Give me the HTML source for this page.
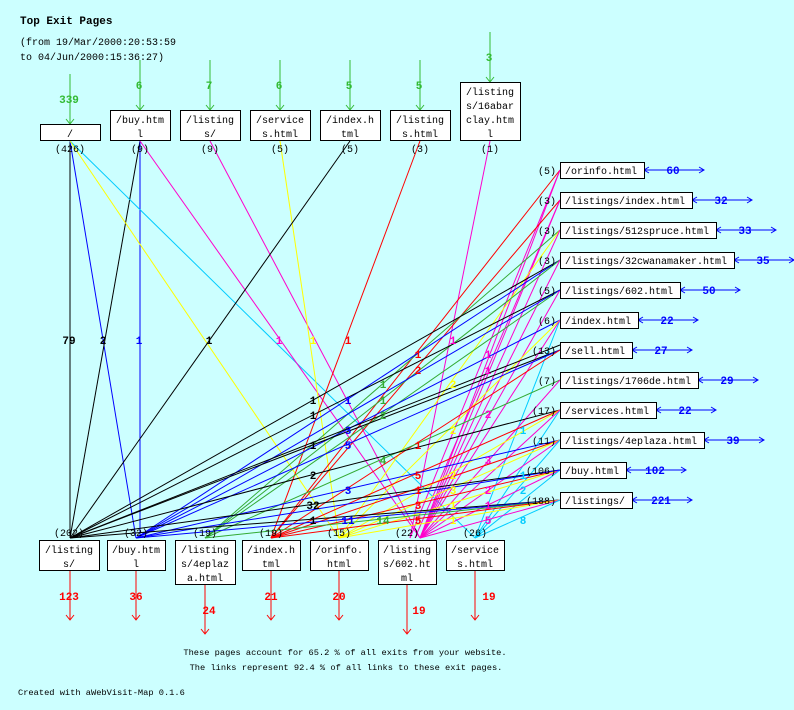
<!DOCTYPE html>
<html><head><meta charset="utf-8"><style>
html,body{margin:0;padding:0;background:#ccffff;}
svg{display:block;font-family:"Liberation Mono","DejaVu Sans Mono",monospace;}
.t{font-size:10px;fill:#000}
.b{font-size:11px;font-weight:bold}
</style></head><body>
<svg width="794" height="710" viewBox="0 0 794 710" xmlns="http://www.w3.org/2000/svg">
<rect width="794" height="710" fill="#ccffff"/>
<text x="20" y="24" style="font-size:11px;font-weight:bold">Top Exit Pages</text>
<text class="t" x="20" y="45">(from 19/Mar/2000:20:53:59</text>
<text class="t" x="20" y="60">to 04/Jun/2000:15:36:27)</text>

<g fill="none" stroke-width="1">
<line x1="70" y1="141" x2="70" y2="538" stroke="#000"/>
<line x1="70" y1="141" x2="136" y2="538" stroke="#0000ff"/>
<line x1="140" y1="141" x2="70" y2="538" stroke="#000"/>
<line x1="140" y1="141" x2="140" y2="538" stroke="#0000ff"/>
<line x1="70" y1="141" x2="475" y2="538" stroke="#00ccff"/>
<line x1="70" y1="141" x2="339" y2="538" stroke="#ffff00"/>
<line x1="140" y1="141" x2="420" y2="538" stroke="#ff00cc"/>
<line x1="210" y1="141" x2="420" y2="538" stroke="#ff00cc"/>
<line x1="280" y1="141" x2="339" y2="538" stroke="#ffff00"/>
<line x1="350" y1="141" x2="70" y2="538" stroke="#000"/>
<line x1="420" y1="141" x2="271" y2="538" stroke="#ff0000"/>
<line x1="490" y1="141" x2="410" y2="538" stroke="#ff00cc"/>
<line x1="560" y1="170" x2="271" y2="538" stroke="#ff0000"/>
<line x1="560" y1="170" x2="420" y2="538" stroke="#ff00cc"/>
<line x1="560" y1="170" x2="410" y2="538" stroke="#ff00cc"/>
<line x1="560" y1="200" x2="271" y2="538" stroke="#ff0000"/>
<line x1="560" y1="200" x2="420" y2="538" stroke="#ff00cc"/>
<line x1="560" y1="200" x2="415" y2="538" stroke="#ff00cc"/>
<line x1="560" y1="230" x2="205" y2="538" stroke="#33aa33"/>
<line x1="560" y1="230" x2="339" y2="538" stroke="#ffff00"/>
<line x1="560" y1="230" x2="420" y2="538" stroke="#ff00cc"/>
<line x1="560" y1="260" x2="70" y2="538" stroke="#000"/>
<line x1="560" y1="260" x2="136" y2="538" stroke="#0000ff"/>
<line x1="560" y1="260" x2="205" y2="538" stroke="#33aa33"/>
<line x1="560" y1="260" x2="420" y2="538" stroke="#ff00cc"/>
<line x1="560" y1="290" x2="70" y2="538" stroke="#000"/>
<line x1="560" y1="290" x2="205" y2="538" stroke="#33aa33"/>
<line x1="560" y1="290" x2="420" y2="538" stroke="#ff00cc"/>
<line x1="560" y1="290" x2="136" y2="538" stroke="#0000ff"/>
<line x1="560" y1="320" x2="136" y2="538" stroke="#0000ff"/>
<line x1="560" y1="320" x2="339" y2="538" stroke="#ffff00"/>
<line x1="560" y1="320" x2="475" y2="538" stroke="#00ccff"/>
<line x1="560" y1="320" x2="420" y2="538" stroke="#ff00cc"/>
<line x1="560" y1="350" x2="70" y2="538" stroke="#000"/>
<line x1="560" y1="350" x2="136" y2="538" stroke="#0000ff"/>
<line x1="560" y1="350" x2="271" y2="538" stroke="#ff0000"/>
<line x1="560" y1="345" x2="70" y2="538" stroke="#000"/>
<line x1="560" y1="380" x2="205" y2="538" stroke="#33aa33"/>
<line x1="560" y1="380" x2="420" y2="538" stroke="#ff00cc"/>
<line x1="560" y1="410" x2="70" y2="538" stroke="#000"/>
<line x1="560" y1="410" x2="271" y2="538" stroke="#ff0000"/>
<line x1="560" y1="410" x2="339" y2="538" stroke="#ffff00"/>
<line x1="560" y1="410" x2="475" y2="538" stroke="#00ccff"/>
<line x1="560" y1="410" x2="420" y2="538" stroke="#ff00cc"/>
<line x1="560" y1="440" x2="136" y2="538" stroke="#0000ff"/>
<line x1="560" y1="440" x2="271" y2="538" stroke="#ff0000"/>
<line x1="560" y1="440" x2="339" y2="538" stroke="#ffff00"/>
<line x1="560" y1="440" x2="420" y2="538" stroke="#ff00cc"/>
<line x1="560" y1="440" x2="475" y2="538" stroke="#00ccff"/>
<line x1="560" y1="470" x2="70" y2="538" stroke="#000"/>
<line x1="560" y1="470" x2="271" y2="538" stroke="#ff0000"/>
<line x1="560" y1="470" x2="339" y2="538" stroke="#ffff00"/>
<line x1="560" y1="470" x2="420" y2="538" stroke="#ff00cc"/>
<line x1="560" y1="470" x2="475" y2="538" stroke="#00ccff"/>
<line x1="560" y1="470" x2="136" y2="538" stroke="#0000ff"/>
<line x1="560" y1="500" x2="70" y2="538" stroke="#000"/>
<line x1="560" y1="500" x2="136" y2="538" stroke="#0000ff"/>
<line x1="560" y1="500" x2="205" y2="538" stroke="#33aa33"/>
<line x1="560" y1="500" x2="271" y2="538" stroke="#ff0000"/>
<line x1="560" y1="500" x2="339" y2="538" stroke="#ffff00"/>
<line x1="560" y1="500" x2="420" y2="538" stroke="#ff00cc"/>
<line x1="560" y1="500" x2="475" y2="538" stroke="#00ccff"/>
<g stroke="#33bb33">
<line x1="70" y1="74" x2="70" y2="124"/><polyline points="66,119 70,124 74,119"/>
<line x1="140" y1="60" x2="140" y2="110"/><polyline points="136,105 140,110 144,105"/>
<line x1="210" y1="60" x2="210" y2="110"/><polyline points="206,105 210,110 214,105"/>
<line x1="280" y1="60" x2="280" y2="110"/><polyline points="276,105 280,110 284,105"/>
<line x1="350" y1="60" x2="350" y2="110"/><polyline points="346,105 350,110 354,105"/>
<line x1="420" y1="60" x2="420" y2="110"/><polyline points="416,105 420,110 424,105"/>
<line x1="490" y1="32" x2="490" y2="82"/><polyline points="486,77 490,82 494,77"/>
</g>
<g stroke="#ff0000">
<line x1="70" y1="571" x2="70" y2="620"/><polyline points="66,615 70,620 74,615"/>
<line x1="136" y1="571" x2="136" y2="620"/><polyline points="132,615 136,620 140,615"/>
<line x1="205" y1="584" x2="205" y2="634"/><polyline points="201,629 205,634 209,629"/>
<line x1="271" y1="571" x2="271" y2="620"/><polyline points="267,615 271,620 275,615"/>
<line x1="339" y1="571" x2="339" y2="620"/><polyline points="335,615 339,620 343,615"/>
<line x1="407" y1="584" x2="407" y2="634"/><polyline points="403,629 407,634 411,629"/>
<line x1="475" y1="571" x2="475" y2="620"/><polyline points="471,615 475,620 479,615"/>
</g>
<g stroke="#0000ff">
<line x1="644" y1="170" x2="704" y2="170"/><polyline points="649,167 644,170 649,173"/><polyline points="699,167 704,170 699,173"/>
<line x1="692" y1="200" x2="752" y2="200"/><polyline points="697,197 692,200 697,203"/><polyline points="747,197 752,200 747,203"/>
<line x1="716" y1="230" x2="776" y2="230"/><polyline points="721,227 716,230 721,233"/><polyline points="771,227 776,230 771,233"/>
<line x1="734" y1="260" x2="794" y2="260"/><polyline points="739,257 734,260 739,263"/><polyline points="789,257 794,260 789,263"/>
<line x1="680" y1="290" x2="740" y2="290"/><polyline points="685,287 680,290 685,293"/><polyline points="735,287 740,290 735,293"/>
<line x1="638" y1="320" x2="698" y2="320"/><polyline points="643,317 638,320 643,323"/><polyline points="693,317 698,320 693,323"/>
<line x1="632" y1="350" x2="692" y2="350"/><polyline points="637,347 632,350 637,353"/><polyline points="687,347 692,350 687,353"/>
<line x1="698" y1="380" x2="758" y2="380"/><polyline points="703,377 698,380 703,383"/><polyline points="753,377 758,380 753,383"/>
<line x1="656" y1="410" x2="716" y2="410"/><polyline points="661,407 656,410 661,413"/><polyline points="711,407 716,410 711,413"/>
<line x1="704" y1="440" x2="764" y2="440"/><polyline points="709,437 704,440 709,443"/><polyline points="759,437 764,440 759,443"/>
<line x1="626" y1="470" x2="686" y2="470"/><polyline points="631,467 626,470 631,473"/><polyline points="681,467 686,470 681,473"/>
<line x1="632" y1="500" x2="692" y2="500"/><polyline points="637,497 632,500 637,503"/><polyline points="687,497 692,500 687,503"/>
</g>
</g>

<g fill="#fff" stroke="#000">
<rect x="40.5" y="124.5" width="60" height="16"/>
<rect x="110.5" y="110.5" width="60" height="30"/>
<rect x="180.5" y="110.5" width="60" height="30"/>
<rect x="250.5" y="110.5" width="60" height="30"/>
<rect x="320.5" y="110.5" width="60" height="30"/>
<rect x="390.5" y="110.5" width="60" height="30"/>
<rect x="460.5" y="82.5" width="60" height="58"/>
<rect x="39.5" y="540.5" width="60" height="30"/>
<rect x="107.5" y="540.5" width="58" height="30"/>
<rect x="175.5" y="540.5" width="60" height="44"/>
<rect x="242.5" y="540.5" width="58" height="30"/>
<rect x="310.5" y="540.5" width="58" height="30"/>
<rect x="378.5" y="540.5" width="58" height="44"/>
<rect x="446.5" y="540.5" width="58" height="30"/>
<rect x="560.5" y="162.5" width="84" height="16"/>
<rect x="560.5" y="192.5" width="132" height="16"/>
<rect x="560.5" y="222.5" width="156" height="16"/>
<rect x="560.5" y="252.5" width="174" height="16"/>
<rect x="560.5" y="282.5" width="120" height="16"/>
<rect x="560.5" y="312.5" width="78" height="16"/>
<rect x="560.5" y="342.5" width="72" height="16"/>
<rect x="560.5" y="372.5" width="138" height="16"/>
<rect x="560.5" y="402.5" width="96" height="16"/>
<rect x="560.5" y="432.5" width="144" height="16"/>
<rect x="560.5" y="462.5" width="66" height="16"/>
<rect x="560.5" y="492.5" width="72" height="16"/>
</g>

<g class="t" text-anchor="middle">
<text x="70" y="137">/</text>
<text x="140" y="123">/buy.htm</text><text x="140" y="137">l</text>
<text x="210" y="123">/listing</text><text x="210" y="137">s/</text>
<text x="280" y="123">/service</text><text x="280" y="137">s.html</text>
<text x="350" y="123">/index.h</text><text x="350" y="137">tml</text>
<text x="420" y="123">/listing</text><text x="420" y="137">s.html</text>
<text x="490" y="95">/listing</text><text x="490" y="109">s/16abar</text><text x="490" y="123">clay.htm</text><text x="490" y="137">l</text>
<text x="70" y="152">(426)</text><text x="140" y="152">(9)</text><text x="210" y="152">(9)</text><text x="280" y="152">(5)</text><text x="350" y="152">(5)</text><text x="420" y="152">(3)</text><text x="490" y="152">(1)</text>

<text x="69" y="553">/listing</text><text x="69" y="567">s/</text>
<text x="136" y="553">/buy.htm</text><text x="136" y="567">l</text>
<text x="205" y="553">/listing</text><text x="205" y="567">s/4eplaz</text><text x="205" y="581">a.html</text>
<text x="271" y="553">/index.h</text><text x="271" y="567">tml</text>
<text x="339" y="553">/orinfo.</text><text x="339" y="567">html</text>
<text x="407" y="553">/listing</text><text x="407" y="567">s/602.ht</text><text x="407" y="581">ml</text>
<text x="475" y="553">/service</text><text x="475" y="567">s.html</text>
<text x="69" y="536">(202)</text><text x="136" y="536">(32)</text><text x="205" y="536">(19)</text><text x="271" y="536">(19)</text><text x="339" y="536">(15)</text><text x="407" y="536">(22)</text><text x="475" y="536">(26)</text>
</g>

<g class="t">
<text x="565" y="174">/orinfo.html</text>
<text x="565" y="204">/listings/index.html</text>
<text x="565" y="234">/listings/512spruce.html</text>
<text x="565" y="264">/listings/32cwanamaker.html</text>
<text x="565" y="294">/listings/602.html</text>
<text x="565" y="324">/index.html</text>
<text x="565" y="354">/sell.html</text>
<text x="565" y="384">/listings/1706de.html</text>
<text x="565" y="414">/services.html</text>
<text x="565" y="444">/listings/4eplaza.html</text>
<text x="565" y="474">/buy.html</text>
<text x="565" y="504">/listings/</text>
</g>
<g class="t" text-anchor="end">
<text x="556" y="174">(5)</text><text x="556" y="204">(3)</text><text x="556" y="234">(3)</text><text x="556" y="264">(3)</text><text x="556" y="294">(5)</text><text x="556" y="324">(6)</text><text x="556" y="354">(13)</text><text x="556" y="384">(7)</text><text x="556" y="414">(17)</text><text x="556" y="444">(11)</text><text x="556" y="474">(106)</text><text x="556" y="504">(188)</text>
</g>

<g class="b" text-anchor="middle" fill="#33bb33">
<text x="69" y="103">339</text><text x="139" y="89">6</text><text x="209" y="89">7</text><text x="279" y="89">6</text><text x="349" y="89">5</text><text x="419" y="89">5</text><text x="489" y="61">3</text>
</g>
<g class="b" text-anchor="middle" fill="#ff0000">
<text x="69" y="600">123</text><text x="136" y="600">36</text><text x="209" y="614">24</text><text x="271" y="600">21</text><text x="339" y="600">20</text><text x="419" y="614">19</text><text x="489" y="600">19</text>
</g>
<g class="b" text-anchor="middle" fill="#0000ff">
<text x="673" y="174">60</text><text x="721" y="204">32</text><text x="745" y="234">33</text><text x="763" y="264">35</text><text x="709" y="294">50</text><text x="667" y="324">22</text><text x="661" y="354">27</text><text x="727" y="384">29</text><text x="685" y="414">22</text><text x="733" y="444">39</text><text x="655" y="474">102</text><text x="661" y="504">221</text>
</g>

<g class="b" text-anchor="middle">
<text x="69" y="344" fill="#000">79</text>
<text x="103" y="344" fill="#000">2</text>
<text x="139" y="344" fill="#0000ff">1</text>
<text x="209" y="344" fill="#000">1</text>
<text x="279" y="344" fill="#ff00cc">1</text>
<text x="313" y="344" fill="#ffff00">1</text>
<text x="348" y="344" fill="#ff0000">1</text>
<text x="453" y="344" fill="#ff00cc">1</text>
<text x="418" y="358" fill="#ff0000">1</text><text x="488" y="358" fill="#ff00cc">1</text>
<text x="418" y="374" fill="#ff0000">2</text><text x="488" y="374" fill="#ff00cc">1</text>
<text x="383" y="388" fill="#33aa33">1</text><text x="453" y="388" fill="#ffff00">2</text>
<text x="313" y="404" fill="#000">1</text><text x="348" y="404" fill="#0000ff">1</text><text x="383" y="404" fill="#33aa33">1</text>
<text x="313" y="419" fill="#000">1</text><text x="383" y="419" fill="#33aa33">2</text><text x="488" y="418" fill="#ff00cc">2</text>
<text x="348" y="434" fill="#0000ff">3</text><text x="453" y="434" fill="#ffff00">2</text><text x="523" y="434" fill="#00ccff">1</text>
<text x="313" y="449" fill="#000">1</text><text x="348" y="449" fill="#0000ff">5</text><text x="418" y="449" fill="#ff0000">1</text>
<text x="383" y="464" fill="#33aa33">4</text><text x="488" y="464" fill="#ff00cc">3</text>
<text x="313" y="479" fill="#000">2</text><text x="418" y="479" fill="#ff0000">5</text><text x="453" y="479" fill="#ffff00">2</text><text x="523" y="479" fill="#00ccff">1</text>
<text x="348" y="494" fill="#0000ff">3</text><text x="418" y="494" fill="#ff0000">1</text><text x="453" y="494" fill="#ffff00">3</text><text x="488" y="494" fill="#ff00cc">2</text><text x="523" y="494" fill="#00ccff">2</text>
<text x="313" y="509" fill="#000">32</text><text x="418" y="509" fill="#ff0000">3</text><text x="453" y="509" fill="#ffff00">1</text><text x="488" y="509" fill="#ff00cc">1</text>
<text x="313" y="524" fill="#000">1</text><text x="348" y="524" fill="#0000ff">11</text><text x="383" y="524" fill="#33aa33">14</text><text x="418" y="524" fill="#ff0000">5</text><text x="453" y="524" fill="#ffff00">1</text><text x="488" y="524" fill="#ff00cc">5</text><text x="523" y="524" fill="#00ccff">8</text>
</g>

<g style="font-size:8.7px" fill="#000">
<text x="345" y="655" text-anchor="middle">These pages account for 65.2 % of all exits from your website.</text>
<text x="346" y="670" text-anchor="middle">The links represent 92.4 % of all links to these exit pages.</text>
<text x="18" y="695">Created with aWebVisit-Map 0.1.6</text>
</g>
</svg>
</body></html>
